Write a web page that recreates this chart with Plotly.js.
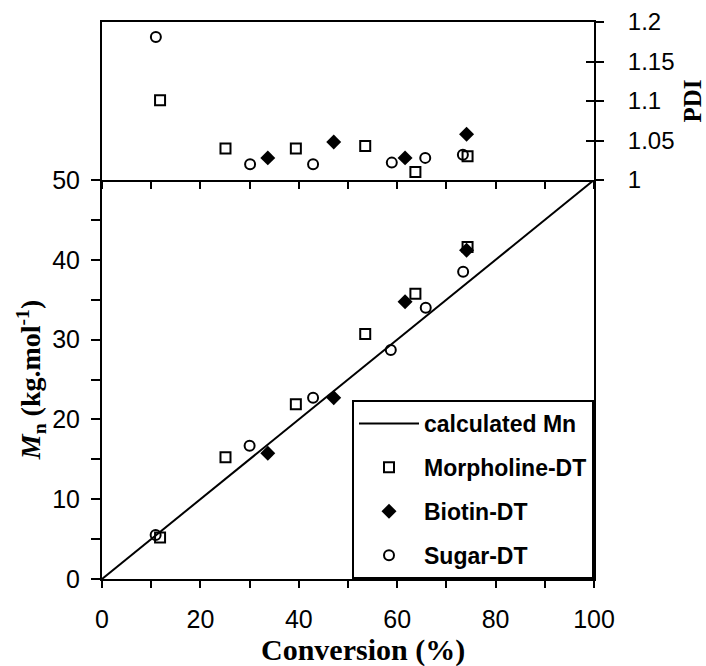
<!DOCTYPE html>
<html>
<head>
<meta charset="utf-8">
<script src="https://cdn.plot.ly/plotly-3.0.1.min.js"></script>
<style>html,body{margin:0;padding:0;background:#fff;}#chart{width:706px;height:666px;}</style>
</head>
<body>
<div id="chart"></div>
<script>
// ---- data ----
const calcX = [0, 100];
const calcMn = [0, 50];

const morphConv = [11.8, 25.1, 39.4, 53.5, 63.7, 74.3];
const morphMn   = [5.2, 15.25, 21.9, 30.7, 35.75, 41.6];
const morphPDI  = [1.101, 1.040, 1.040, 1.043, 1.010, 1.030];

const biotinConv = [33.7, 47.1, 61.6, 74.1];
const biotinMn   = [15.75, 22.7, 34.75, 41.2];
const biotinPDI  = [1.028, 1.048, 1.028, 1.058];

const sugarConvMn  = [10.9, 30.0, 42.9, 58.7, 65.8, 73.4];
const sugarMn      = [5.5, 16.7, 22.7, 28.7, 34.0, 38.5];
const sugarConvPDI = [10.95, 30.1, 42.9, 58.9, 65.7, 73.35];
const sugarPDI     = [1.181, 1.020, 1.020, 1.022, 1.028, 1.032];

const pdiTickVals = [1, 1.05, 1.1, 1.15, 1.2];
const pdiTickText = ['1', '1.05', '1.1', '1.15', '1.2'];

const xTitle = 'Conversion (%)';
const yTitle = '<i>M</i><sub>n</sub> (kg.mol<sup>-1</sup>)';
const y2Title = 'PDI';

// ---- styles ----
const tickFont = {family: 'Liberation Sans, Arial, sans-serif', size: 25, color: '#000'};
const serif = 'Liberation Serif, Times New Roman, serif';
const sqMarker = {symbol: 'square-open', size: 10, color: '#000', line: {width: 2, color: '#000'}};
const diaMarker = {symbol: 'diamond', size: 11.5, color: '#000', line: {width: 0}};
const ciMarker = {symbol: 'circle-open', size: 10, color: '#000', line: {width: 2, color: '#000'}};

const traces = [
  {x: calcX, y: calcMn, mode: 'lines', name: 'calculated Mn', line: {color: '#000', width: 2},
   xaxis: 'x', yaxis: 'y', legendgroup: 'a'},
  {x: morphConv, y: morphMn, mode: 'markers', name: 'Morpholine-DT', marker: sqMarker,
   xaxis: 'x', yaxis: 'y', legendgroup: 'b'},
  {x: biotinConv, y: biotinMn, mode: 'markers', name: 'Biotin-DT', marker: diaMarker,
   xaxis: 'x', yaxis: 'y', legendgroup: 'c'},
  {x: sugarConvMn, y: sugarMn, mode: 'markers', name: 'Sugar-DT', marker: ciMarker,
   xaxis: 'x', yaxis: 'y', legendgroup: 'd'},
  {x: morphConv, y: morphPDI, mode: 'markers', showlegend: false, marker: sqMarker, xaxis: 'x2', yaxis: 'y2'},
  {x: biotinConv, y: biotinPDI, mode: 'markers', showlegend: false, marker: diaMarker, xaxis: 'x2', yaxis: 'y2'},
  {x: sugarConvPDI, y: sugarPDI, mode: 'markers', showlegend: false, marker: ciMarker, xaxis: 'x2', yaxis: 'y2'},
  // invisible helper to carry the inner ticks on the PDI axis
  {x: [0], y: [1], mode: 'markers', showlegend: false, hoverinfo: 'skip', marker: {opacity: 0}, xaxis: 'x2', yaxis: 'y3'}
];

const split = 399 / 557;

const layout = {
  width: 706, height: 666,
  margin: {l: 102, r: 112, t: 22, b: 87},
  paper_bgcolor: '#fff', plot_bgcolor: '#fff',
  showlegend: true,
  legend: {
    x: 1, xanchor: 'right', y: 0, yanchor: 'bottom',
    bgcolor: '#fff', bordercolor: '#000', borderwidth: 2,
    font: {family: 'Liberation Sans, Arial, sans-serif', size: 23, color: '#000', weight: 'bold'},
    traceorder: 'grouped', tracegroupgap: 11, itemwidth: 60
  },
  annotations: [
    {text: xTitle, xref: 'paper', yref: 'paper', x: 0.53, y: -0.128, xanchor: 'center', yanchor: 'middle',
     showarrow: false, font: {family: serif, size: 30, color: '#000', weight: 'bold'}}
  ],
  xaxis: {
    domain: [0, 1], anchor: 'y', range: [0, 100], dtick: 20, tick0: 0,
    ticks: 'outside', ticklen: 7, tickwidth: 2, tickcolor: '#000',
    minor: {dtick: 10, ticks: 'outside', ticklen: 7, tickwidth: 2, tickcolor: '#000', showgrid: false},
    showline: true, linewidth: 2, linecolor: '#000', mirror: false,
    showgrid: false, zeroline: false, tickfont: tickFont, ticklabelstandoff: 10
  },
  yaxis: {
    domain: [0, split], anchor: 'x', range: [0, 50], dtick: 10,
    ticks: 'outside', ticklen: 9, tickwidth: 2, tickcolor: '#000',
    minor: {dtick: 5, ticks: 'outside', ticklen: 9, tickwidth: 2, tickcolor: '#000', showgrid: false},
    showline: true, linewidth: 2, linecolor: '#000', mirror: true,
    showgrid: false, zeroline: false, tickfont: tickFont, ticklabelstandoff: 6,
    title: {text: yTitle, font: {family: serif, size: 28, color: '#000', weight: 'bold'}, standoff: 3}
  },
  xaxis2: {
    domain: [0, 1], anchor: 'y2', matches: 'x', range: [0, 100], dtick: 10,
    ticks: 'outside', ticklen: 7, tickwidth: 2, tickcolor: '#000', showticklabels: false,
    showline: true, linewidth: 2, linecolor: '#000', mirror: true,
    showgrid: false, zeroline: false
  },
  yaxis2: {
    domain: [split, 1], anchor: 'x2', side: 'right', range: [1, 1.2],
    tickmode: 'array', tickvals: pdiTickVals, ticktext: pdiTickText,
    ticks: 'outside', ticklen: 8, tickwidth: 2, tickcolor: '#000',
    showline: true, linewidth: 2, linecolor: '#000', mirror: true,
    showgrid: false, zeroline: false, tickfont: {family: 'Liberation Sans, Arial, sans-serif', size: 24, color: '#000'},
    ticklabelstandoff: 19,
    title: {text: y2Title, font: {family: serif, size: 25, color: '#000', weight: 'bold'}, standoff: 10}
  },
  yaxis3: {
    overlaying: 'y2', anchor: 'x2', side: 'right', range: [1, 1.2],
    tickmode: 'array', tickvals: pdiTickVals, showticklabels: false,
    ticks: 'inside', ticklen: 8, tickwidth: 2, tickcolor: '#000',
    showline: false, showgrid: false, zeroline: false
  }
};

Plotly.newPlot('chart', traces, layout, {staticPlot: true, displayModeBar: false});
</script>
</body>
</html>
